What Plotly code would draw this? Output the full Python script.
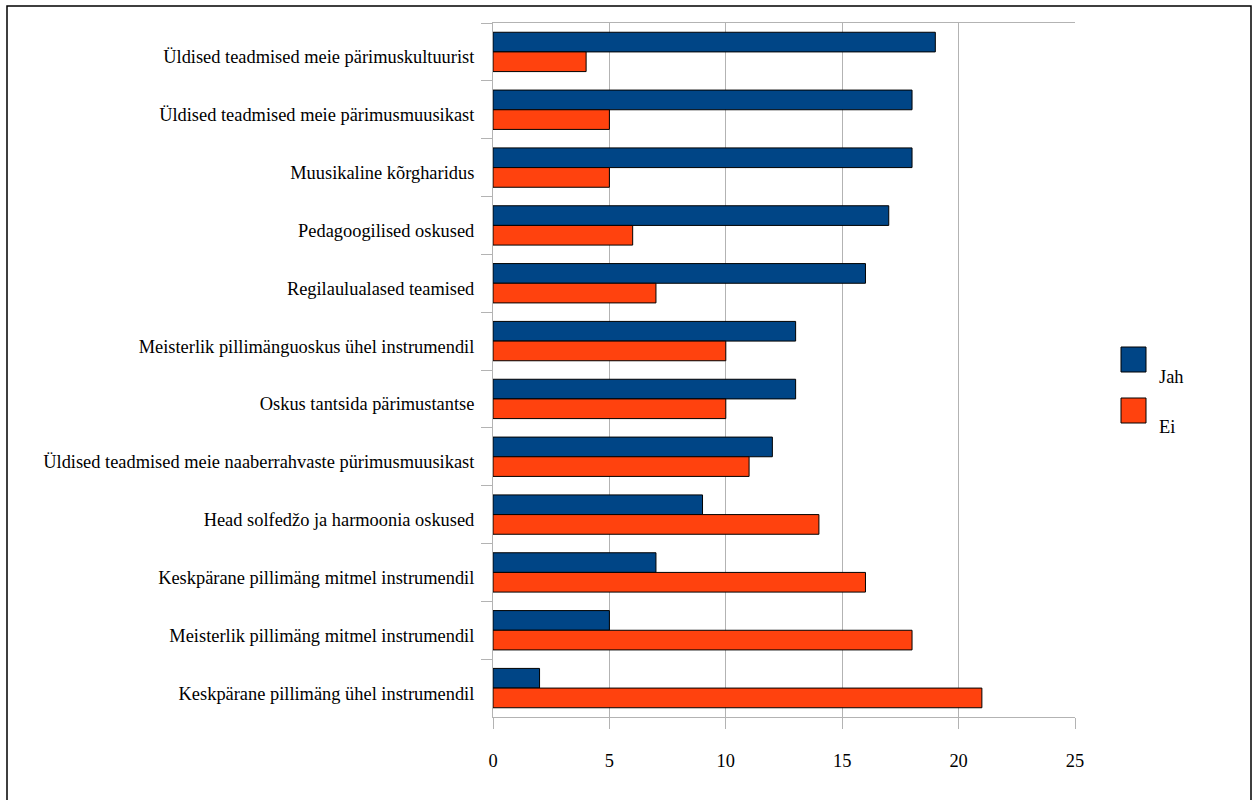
import plotly.graph_objects as go

categories = [
    "Üldised teadmised meie pärimuskultuurist",
    "Üldised teadmised meie pärimusmuusikast",
    "Muusikaline kõrgharidus",
    "Pedagoogilised oskused",
    "Regilaulualased teamised",
    "Meisterlik pillimänguoskus ühel instrumendil",
    "Oskus tantsida pärimustantse",
    "Üldised teadmised meie naaberrahvaste pürimusmuusikast",
    "Head solfedžo ja harmoonia oskused",
    "Keskpärane pillimäng mitmel instrumendil",
    "Meisterlik pillimäng mitmel instrumendil",
    "Keskpärane pillimäng ühel instrumendil",
]
jah = [19, 18, 18, 17, 16, 13, 13, 12, 9, 7, 5, 2]
ei = [4, 5, 5, 6, 7, 10, 10, 11, 14, 16, 18, 21]
series_names = ["Jah", "Ei"]
colors = ["#004586", "#ff420e"]
x_ticks = [0, 5, 10, 15, 20, 25]

W, H = 1260, 800
L, R, T, B = 493, 185, 23, 83
PW, PH = W - L - R, H - T - B

def px2x(px):
    return (px - L) / PW

def py2y(py):
    return (H - B - py) / PH

FONT = "Liberation Serif, Times New Roman, serif"
FS = 18.4
GRID = "#b3b3b3"

fig = go.Figure()
for name, vals, col in zip(series_names, [jah, ei], colors):
    fig.add_trace(go.Bar(
        y=categories, x=vals, name=name, orientation="h",
        marker=dict(color=col, line=dict(color="#000000", width=1)),
        showlegend=False,
    ))

fig.update_layout(
    width=W, height=H,
    margin=dict(l=L, r=R, t=T, b=B, pad=0),
    paper_bgcolor="white", plot_bgcolor="white",
    barmode="group", bargap=0.32, bargroupgap=0,
    font=dict(family=FONT, size=FS, color="#000000"),
    xaxis=dict(
        range=[0, 25], tickvals=x_ticks, ticktext=[str(v) for v in x_ticks],
        showgrid=True, gridcolor=GRID, gridwidth=1, zeroline=False,
        showline=True, linecolor=GRID, linewidth=1, mirror=True,
        ticks="outside", ticklen=11, tickcolor=GRID, tickwidth=1,
        ticklabelstandoff=16,
        tickfont=dict(family=FONT, size=FS, color="#000000"),
    ),
    yaxis=dict(
        type="category", categoryorder="array", categoryarray=categories,
        autorange="reversed",
        showgrid=False, zeroline=False,
        showline=True, linecolor=GRID, linewidth=1,
        ticks="outside", tickson="boundaries", ticklen=11, tickcolor=GRID, tickwidth=1,
        ticklabelshift=-5, ticklabelstandoff=14,
        tickfont=dict(family=FONT, size=FS, color="#000000"),
    ),
)

# outer border of the chart
fig.add_shape(type="rect", xref="paper", yref="paper",
              x0=px2x(7), x1=px2x(1251), y0=py2y(806), y1=py2y(6),
              line=dict(color="#000000", width=1.5), fillcolor="rgba(0,0,0,0)",
              layer="above")

# legend (custom, to match large square keys)
legend_rows = [(347, 372, 377), (398, 423, 427)]
for (top, bot, ty), name, col in zip(legend_rows, series_names, colors):
    fig.add_shape(type="rect", xref="paper", yref="paper",
                  x0=px2x(1121), x1=px2x(1146), y0=py2y(bot), y1=py2y(top),
                  line=dict(color="#000000", width=1), fillcolor=col)
    fig.add_annotation(xref="paper", yref="paper", x=px2x(1157), y=py2y(ty),
                       text=name, showarrow=False, xanchor="left", yanchor="middle",
                       font=dict(family=FONT, size=FS, color="#000000"))

fig.write_html("out.html",
               config={"displayModeBar": False},
               post_script="document.body.style.margin='0';document.body.style.padding='0';")
